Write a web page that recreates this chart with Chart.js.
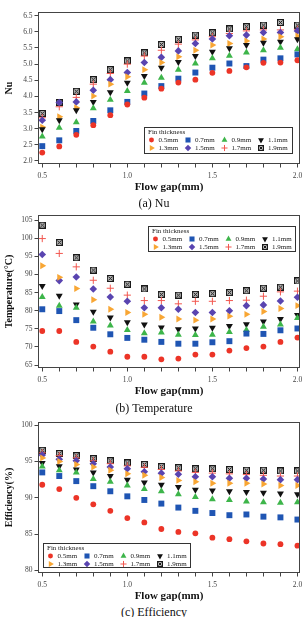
<!DOCTYPE html>
<html>
<head>
<meta charset="utf-8">
<script src="https://cdn.jsdelivr.net/npm/chart.js@4.4.0/dist/chart.umd.min.js"></script>
<style>
  body { margin: 0; background: #fff; width: 308px; height: 617px; overflow: hidden; position: relative; font-family: "Liberation Serif", serif; }
  canvas { position: absolute; left: 0; }
  .cap { position: absolute; left: 0; width: 308px; text-align: center; font-size: 12px; line-height: 12px; color: #111; }
</style>
</head>
<body>
<canvas id="chartNu" style="top:0px" width="308" height="195"></canvas>
<canvas id="chartTemp" style="top:200px" width="308" height="199"></canvas>
<canvas id="chartEff" style="top:405px" width="308" height="199"></canvas>
<div class="cap" style="top:197px">(a) Nu</div>
<div class="cap" style="top:402px">(b) Temperature</div>
<div class="cap" style="top:606px">(c) Efficiency</div>
<script>
/* global Chart */

// flow gap (mm) and fin thickness labels
const gap = [0.5, 0.6, 0.7, 0.8, 0.9, 1.0, 1.1, 1.2, 1.3, 1.4, 1.5, 1.6, 1.7, 1.8, 1.9, 2.0]
const fins = ['0.5mm', '0.7mm', '0.9mm', '1.1mm', '1.3mm', '1.5mm', '1.7mm', '1.9mm']
const xTicks = [0.5, 0.6, 0.7, 0.8, 0.9, 1.0, 1.1, 1.2, 1.3, 1.4, 1.5, 1.6, 1.7, 1.8, 1.9, 2.0]
const xLabels = [0.5, 1.0, 1.5, 2.0]

// (a) Nu
const nu05 = [2.26, 2.45, 2.81, 3.11, 3.42, 3.75, 3.96, 4.24, 4.43, 4.52, 4.73, 4.79, 4.90, 5.04, 5.05, 5.12]
const nu07 = [2.46, 2.64, 2.93, 3.24, 3.57, 3.83, 4.09, 4.32, 4.55, 4.74, 4.89, 5.02, 4.94, 5.14, 5.18, 5.30]
const nu09 = [2.76, 3.03, 3.20, 3.63, 3.90, 4.17, 4.42, 4.58, 4.83, 5.02, 5.18, 5.26, 5.36, 5.43, 5.51, 5.46]
const nu11 = [2.98, 3.26, 3.57, 3.83, 4.13, 4.42, 4.63, 4.89, 5.07, 5.25, 5.38, 5.49, 5.59, 5.66, 5.69, 5.77]
const nu13 = [3.05, 3.37, 3.65, 4.01, 4.38, 4.61, 4.83, 5.05, 5.23, 5.43, 5.59, 5.64, 5.72, 5.78, 5.85, 5.87]
const nu15 = [3.26, 3.81, 3.83, 4.19, 4.52, 4.74, 5.05, 5.21, 5.41, 5.64, 5.78, 5.88, 5.90, 5.98, 5.98, 6.03]
const nu17 = [3.34, 3.68, 3.97, 4.38, 4.71, 5.00, 5.25, 5.43, 5.62, 5.75, 5.85, 5.95, 6.03, 6.06, 6.06, 6.08]
const nu19 = [3.47, 3.81, 4.16, 4.52, 4.83, 5.10, 5.35, 5.61, 5.77, 5.90, 5.97, 6.09, 6.16, 6.21, 6.29, 6.21]
const nuTicks = [2.0, 2.5, 3.0, 3.5, 4.0, 4.5, 5.0, 5.5, 6.0, 6.5]

// (b) Temperature
const t05 = [74.4, 74.4, 71.4, 70.1, 68.7, 67.3, 67.3, 66.6, 66.8, 67.9, 67.9, 69.0, 69.7, 70.1, 71.4, 72.6]
const t07 = [80.4, 79.9, 77.4, 75.3, 73.5, 72.5, 72.0, 71.4, 70.9, 70.9, 71.3, 71.6, 73.7, 73.6, 74.6, 75.1]
const t09 = [83.8, 81.4, 80.8, 77.0, 75.9, 74.7, 73.8, 74.0, 73.4, 73.3, 73.4, 74.1, 74.7, 75.6, 76.2, 78.0]
const t11 = [86.8, 84.1, 81.7, 79.7, 78.1, 76.8, 76.2, 75.4, 74.9, 75.1, 75.3, 75.8, 76.3, 77.0, 77.7, 78.8]
const t13 = [92.4, 89.2, 86.1, 83.0, 80.4, 79.5, 79.0, 78.2, 77.7, 77.4, 77.7, 78.5, 79.0, 79.8, 80.6, 81.4]
const t15 = [95.5, 88.3, 89.3, 86.0, 83.8, 82.6, 80.8, 80.8, 80.4, 79.5, 79.5, 80.0, 81.4, 81.6, 82.7, 83.7]
const t17 = [99.9, 95.8, 92.1, 88.4, 86.2, 84.3, 82.8, 82.8, 81.9, 82.6, 82.6, 82.8, 82.9, 84.0, 85.2, 85.4]
const t19 = [103.6, 98.8, 94.6, 91.2, 88.9, 87.3, 86.0, 84.5, 84.3, 84.5, 84.7, 85.0, 85.5, 86.2, 86.5, 88.2]
const tTicks = [65, 70, 75, 80, 85, 90, 95, 100, 105]

// (c) Efficiency
const e05 = [91.8, 91.2, 90.0, 89.1, 88.2, 87.2, 86.6, 85.7, 85.3, 85.1, 84.5, 84.3, 84.0, 83.7, 83.6, 83.4]
const e07 = [93.5, 93.0, 92.3, 91.6, 90.9, 90.2, 89.7, 89.2, 88.65, 88.2, 87.9, 87.6, 87.7, 87.4, 87.3, 87.0]
const e09 = [94.3, 93.8, 93.5, 92.6, 92.2, 91.7, 91.2, 90.9, 90.5, 90.1, 89.8, 89.7, 89.5, 89.4, 89.3, 89.4]
const e11 = [94.8, 94.35, 93.9, 93.5, 93.0, 92.5, 92.1, 91.8, 91.5, 91.1, 91.0, 90.9, 90.8, 90.7, 90.6, 90.5]
const e13 = [95.5, 95.0, 94.6, 94.25, 93.8, 93.3, 93.1, 92.8, 92.4, 92.2, 92.0, 92.0, 92.0, 91.9, 91.7, 91.7]
const e15 = [95.9, 95.3, 95.1, 94.7, 94.25, 94.0, 93.6, 93.4, 93.25, 92.9, 92.9, 92.7, 92.7, 92.6, 92.5, 92.5]
const e17 = [96.2, 95.8, 95.5, 95.1, 94.7, 94.4, 94.2, 93.9, 93.7, 93.5, 93.4, 93.3, 93.2, 93.1, 93.0, 93.0]
const e19 = [96.55, 96.1, 95.8, 95.4, 95.1, 94.8, 94.6, 94.3, 94.15, 94.0, 94.0, 93.9, 93.8, 93.8, 93.7, 93.7]
const eTicks = [80, 85, 90, 95, 100]

const FONT = 'Liberation Serif, Times New Roman, serif'

// square with an X, used for the 1.9mm series
function boxX(size) {
  const c = document.createElement('canvas')
  c.width = size
  c.height = size
  const g = c.getContext('2d')
  g.fillStyle = '#b5b5b5'
  g.fillRect(0, 0, size, size)
  g.strokeStyle = '#1a1a1a'
  g.lineWidth = 1
  g.strokeRect(0.5, 0.5, size - 1, size - 1)
  g.beginPath()
  g.moveTo(1.5, 1.5); g.lineTo(size - 1.5, size - 1.5)
  g.moveTo(size - 1.5, 1.5); g.lineTo(1.5, size - 1.5)
  g.stroke()
  return c
}

const marks = [
  { style: 'circle', r: 2.9, fill: '#ec3427', line: '#ec3427', bw: 0 },
  { style: 'rect', r: 4.2, fill: '#1f55b3', line: '#1f55b3', bw: 0 },
  { style: 'triangle', r: 4, fill: '#3db54a', line: '#3db54a', bw: 0 },
  { style: 'triangle', r: 4, fill: '#111111', line: '#111111', bw: 0, rot: 180 },
  { style: 'triangle', r: 4, fill: '#f8a634', line: '#f8a634', bw: 0, rot: 90 },
  { style: 'rectRot', r: 3.8, fill: '#5944b0', line: '#5944b0', bw: 0 },
  { style: 'cross', r: 3.6, fill: '#f2574f', line: '#f2574f', bw: 1 },
  { style: boxX(7), r: 3.5, fill: '#999', line: '#111', bw: 0 }
]
const legendMark = boxX(6)

const framePlugin = {
  id: 'frame',
  afterDraw(chart) {
    const { ctx, chartArea: a } = chart
    ctx.save()
    ctx.strokeStyle = '#444'
    ctx.lineWidth = 1
    ctx.strokeRect(Math.round(a.left) + 0.5, Math.round(a.top) + 0.5, Math.round(a.right - a.left) - 1, Math.round(a.bottom - a.top) - 1)
    ctx.restore()
  }
}

// boxed legend inside the plot: title + two rows of four
const finLegend = {
  id: 'finLegend',
  afterDraw(chart, args, opts) {
    const { ctx, chartArea: a } = chart
    const w = opts.w, h = opts.h
    const x0 = opts.left != null ? a.left + opts.left : a.right - opts.right - w
    const y0 = opts.top != null ? a.top + opts.top : a.bottom - opts.bottom - h
    ctx.save()
    ctx.fillStyle = '#fff'
    ctx.fillRect(x0, y0, w, h)
    ctx.strokeStyle = '#333'
    ctx.lineWidth = 1
    ctx.strokeRect(Math.round(x0) + 0.5, Math.round(y0) + 0.5, w, h)
    ctx.font = '7px ' + FONT
    ctx.fillStyle = '#222'
    ctx.textBaseline = 'middle'
    ctx.fillText('Fin thickness', x0 + 4, y0 + 5.5)
    const cols = [7.5, 44, 80.5, 117]
    chart.data.datasets.forEach((ds, i) => {
      const m = marks[i]
      const cx = x0 + cols[i % 4]
      const cy = y0 + (i < 4 ? 13 : 21)
      ctx.fillStyle = m.fill
      ctx.strokeStyle = m.line
      ctx.lineWidth = m.bw || 1
      const style = typeof m.style === 'string' ? m.style : legendMark
      Chart.helpers.drawPoint(ctx, { pointStyle: style, radius: m.r * 0.85, rotation: m.rot || 0, borderWidth: m.bw }, cx, cy)
      ctx.fillStyle = '#222'
      ctx.fillText(ds.label, cx + 7, cy + 0.5)
    })
    ctx.restore()
  }
}

function makeChart(id, series, yTicks, yMin, yMax, yTitle, yDigits, padTop, legendBox) {
  const datasets = series.map((vals, i) => ({
    label: fins[i],
    data: gap.map((g, j) => ({ x: g, y: vals[j] })),
    pointStyle: marks[i].style,
    pointRadius: marks[i].r,
    pointHoverRadius: marks[i].r,
    pointRotation: marks[i].rot || 0,
    pointBackgroundColor: marks[i].fill,
    pointBorderColor: marks[i].line,
    pointBorderWidth: marks[i].bw,
    showLine: false
  }))

  return new Chart(document.getElementById(id), {
    type: 'scatter',
    data: { datasets },
    options: {
      responsive: false,
      animation: false,
      events: [],
      layout: { padding: { top: padTop, right: 8, left: 0, bottom: 0 } },
      plugins: {
        legend: { display: false },
        tooltip: { enabled: false },
        finLegend: legendBox
      },
      scales: {
        x: {
          type: 'linear',
          min: 0.475,
          max: 2.015,
          afterBuildTicks: s => { s.ticks = xTicks.map(v => ({ value: v })) },
          afterFit: s => { s.height = 31 },
          grid: { drawOnChartArea: false, drawTicks: true, tickLength: 3.5, color: '#444' },
          border: { display: false },
          ticks: {
            autoSkip: false,
            maxRotation: 0,
            padding: 4,
            color: '#444',
            font: { family: FONT, size: 7.5 },
            callback: v => xLabels.some(l => Math.abs(l - v) < 1e-6) ? v.toFixed(1) : ''
          },
          title: {
            display: true,
            text: 'Flow gap(mm)',
            color: '#111',
            font: { family: FONT, size: 11, weight: 'bold' },
            padding: { top: 0, bottom: 1 }
          }
        },
        y: {
          type: 'linear',
          min: yMin,
          max: yMax,
          afterBuildTicks: s => { s.ticks = yTicks.map(v => ({ value: v })) },
          afterFit: s => { s.width = 38 },
          grid: { drawOnChartArea: false, drawTicks: true, tickLength: 3.5, color: '#444' },
          border: { display: false },
          ticks: {
            padding: 2,
            color: '#444',
            font: { family: FONT, size: 7.5 },
            callback: v => v.toFixed(yDigits)
          },
          title: {
            display: true,
            text: yTitle,
            color: '#111',
            font: { family: FONT, size: 10, weight: 'bold' },
            padding: { top: 3, bottom: 0 }
          }
        }
      }
    },
    plugins: [framePlugin, finLegend]
  })
}

makeChart('chartNu', [nu05, nu07, nu09, nu11, nu13, nu15, nu17, nu19], nuTicks, 1.907, 6.615, 'Nu', 1, 12,
  { right: 8, bottom: 11, w: 148, h: 26 })
makeChart('chartTemp', [t05, t07, t09, t11, t13, t15, t17, t19], tTicks, 64.2, 106.4, 'Temperature(°C)', 0, 15,
  { right: 5, top: 11, w: 147, h: 25 })
makeChart('chartEff', [e05, e07, e09, e11, e13, e15, e17, e19], eTicks, 79.63, 100.45, 'Efficiency(%)', 0, 17,
  { left: 5, bottom: 6, w: 147, h: 24 })
</script>
</body>
</html>
